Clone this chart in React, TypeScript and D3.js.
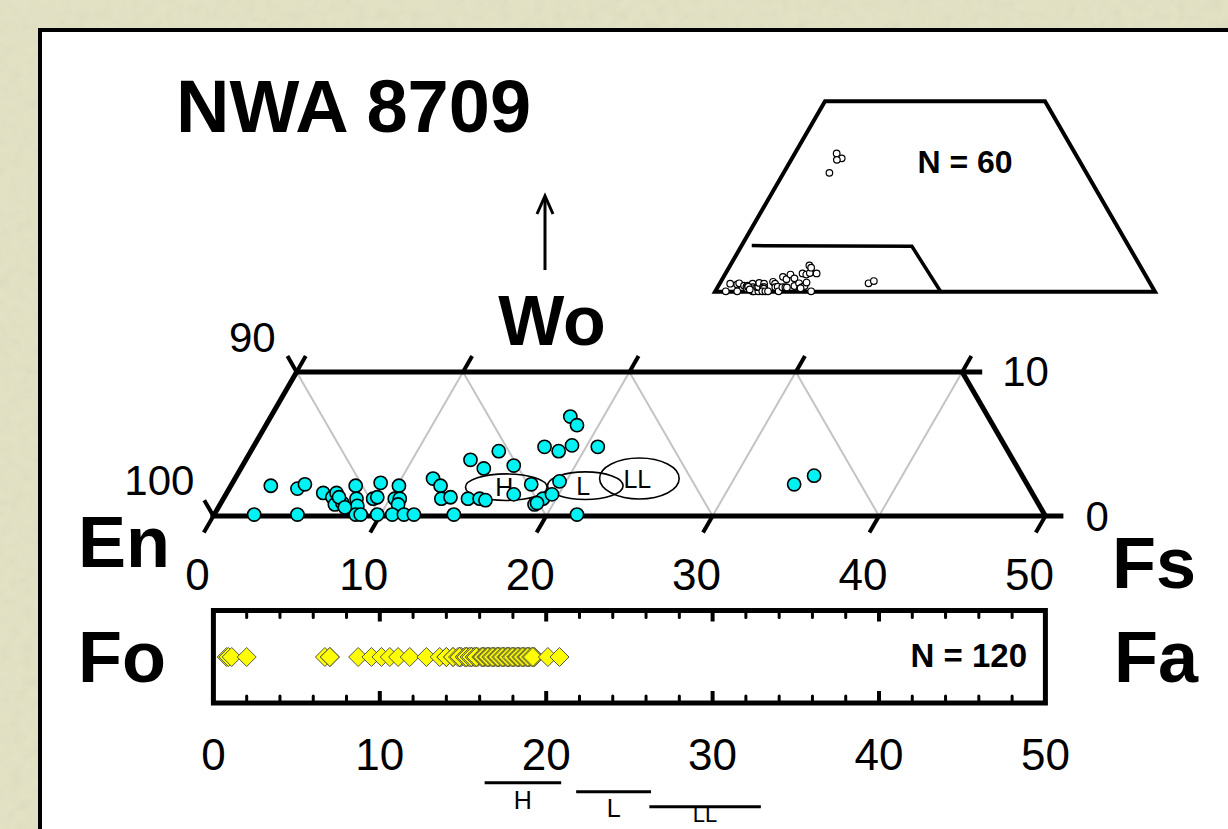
import React from "react";
import * as d3 from "d3";

const W = 1228;
const H = 829;
const FONT = "'Liberation Sans', Arial, Helvetica, sans-serif";

// Low-Ca pyroxene analyses, mol% Fs and Wo
const pyxFs = [
  2.4, 2.4, 5.0, 4.1, 4.4, 5.8, 6.5, 6.6, 6.9, 7.3,
  7.5, 8.0, 8.3, 8.5, 8.8, 9.8, 9.0, 9.2, 8.9, 10.1,
  10.3, 10.6, 10.7, 10.7, 11.4, 12.0, 11.9, 12.6, 13.1, 13.6,
  14.4, 13.5, 14.6, 14.9, 16.3, 14.7, 15.4, 15.8, 17.3, 18.0,
  18.9, 19.2, 19.6, 19.6, 17.5, 18.5, 19.1, 18.0, 18.7, 20.7,
  21.8, 33.8, 34.7, 19.0, 6.9, 7.6,
];
const pyxWo = [
  2.1, 0.1, 0.1, 1.9, 2.2, 1.6, 1.3, 1.6, 0.8, 0.9,
  2.1, 1.2, 0.7, 0.1, 0.1, 0.1, 1.2, 1.3, 2.3, 2.1,
  1.2, 1.2, 0.8, 0.1, 0.1, 0.1, 2.6, 2.1, 1.2, 1.3,
  0.1, 3.9, 3.3, 4.5, 3.5, 1.2, 1.2, 1.1, 1.5, 2.2,
  0.8, 1.2, 1.5, 2.4, 4.8, 4.5, 4.9, 6.9, 6.3, 4.8,
  0.1, 2.2, 2.8, 0.9, 1.3, 0.6,
];

// High-Ca pyroxene analyses (only inside the full quadrilateral)
const cpxFs = [9.5, 11.3, 10.4, 10.4];
const cpxWo = [36.3, 35.0, 34.6, 31.2];

// Olivine analyses, mol% Fa
const olivineFa = [
  0.8, 0.9, 1.1, 2.0, 6.7, 7.0, 7.0, 8.7, 9.5, 10.1,
  10.6, 11.1, 11.8, 12.8, 13.6, 14.0, 14.0, 14.4, 14.4, 14.8,
  14.8, 14.8, 14.9, 14.8, 14.7, 14.8,
  15.2, 15.2, 15.3, 15.2, 15.1, 15.2, 15.2,
  15.5, 15.5, 15.6, 15.5, 15.4, 15.5,
  15.8, 15.8, 15.9, 15.8, 15.7, 15.8, 15.8,
  16.2, 16.2, 16.3, 16.2, 16.1, 16.2, 16.2,
  16.5, 16.5, 16.6, 16.5, 16.4, 16.5, 16.5,
  16.8, 16.8, 16.9, 16.8, 16.7, 16.8,
  17.1, 17.1, 17.2, 17.1, 17.0, 17.1, 17.1,
  17.4, 17.4, 17.5, 17.4, 17.3, 17.4,
  17.7, 17.7, 17.8, 17.7, 17.6, 17.7, 17.7,
  18.0, 18.0, 18.1, 18.0, 17.9, 18.0,
  18.3, 18.3, 18.4, 18.3, 18.2, 18.3, 18.3,
  18.6, 18.6, 18.7, 18.6, 18.5, 18.6,
  18.9, 18.9, 19.0, 18.9, 18.8, 18.9, 18.9,
  19.2, 19.2, 19.3, 19.2, 19.1, 19.2,
  20.1, 20.8,
];

// Ordinary chondrite groups
const groups = ["H", "L", "LL"];
const groupPyxFs = [16.6, 21.3, 24.3];
const groupPyxWo = [2.0, 2.1, 2.6];
const groupPyxFsRadius = [2.45, 2.27, 2.39];
const groupPyxWoRadius = [0.92, 0.96, 1.42];
const groupFaMin = [16.3, 21.8, 26.2];
const groupFaMax = [20.9, 26.3, 32.9];

// Pigeonite field boundary in the quadrilateral
const boundaryFs = [2.3, 38.8, 51.3];
const boundaryWo = [12.1, 11.9, 0];

const axisTicks = [0, 10, 20, 30, 40, 50];
const leftLabels = ["90", "100"];
const rightLabels = ["10", "0"];

export default function App() {
  // main En–Fs–Wo strip (Wo 0–10)
  const fsX = d3.scaleLinear().domain([0, 50]).range([213.4, 1045.4]);
  const woY = d3.scaleLinear().domain([0, 10]).range([516, 371.9]);
  const proj = (fs: number, wo: number): [number, number] => [fsX(fs + wo / 2), woY(wo)];
  const line = d3.line();

  // pyroxene quadrilateral (Wo 0–50)
  const qX = d3.scaleLinear().domain([0, 100]).range([715, 1155]);
  const qY = d3.scaleLinear().domain([0, 50]).range([291.7, 101.2]);
  const qProj = (fs: number, wo: number): [number, number] => [qX(fs + wo / 2), qY(wo)];

  // olivine strip
  const faX = d3.scaleLinear().domain([0, 50]).range([213.4, 1045.4]);
  const boxTop = 610.5;
  const boxBottom = 703;
  const diamondY = 657;
  const minorTicks = d3.range(2, 50, 2).filter((v) => v % 10 !== 0);
  const majorTicks = [10, 20, 30, 40];

  const enLines = [0, 10, 20, 30];
  const fsLines = [10, 20, 30, 40];

  const dia = 9.5;
  const diamondPath = `M0,${-dia}L${dia},0L0,${dia}L${-dia},0Z`;

  const pyx = pyxFs.map((f, i) => ({ fs: f, wo: pyxWo[i] }));
  const quadPts = pyx.concat(cpxFs.map((f, i) => ({ fs: f, wo: cpxWo[i] })));

  const topLeft = proj(0, 10);
  const botLeft = proj(0, 0);
  const topRight = proj(40, 10);
  const botRight = proj(50, 0);

  const rangeY = [782.7, 791.7, 806.7];
  const rangeLabelDy = [26, 25, 15];

  return (
    <svg
      width={W}
      height={H}
      viewBox={`0 0 ${W} ${H}`}
      style={{ position: "absolute", left: 0, top: 0, display: "block" }}
      fontFamily={FONT}
    >
      <defs>
        <filter id="grain" x="0" y="0" width="100%" height="100%">
          <feTurbulence type="fractalNoise" baseFrequency="0.09" numOctaves="3" seed="7" />
          <feColorMatrix type="saturate" values="0" />
        </filter>
      </defs>

      {/* page background */}
      <rect x={0} y={0} width={W} height={H} fill="#e4e2c4" />
      <rect x={0} y={0} width={W} height={H} filter="url(#grain)" opacity={0.1} />

      {/* white panel */}
      <rect x={40} y={30} width={W} height={H} fill="#ffffff" stroke="#000" strokeWidth={4} />

      {/* title */}
      <text x={176} y={132} fontSize={74} fontWeight="bold">NWA 8709</text>

      {/* pyroxene quadrilateral */}
      <g>
        <path
          d={line([qProj(0, 0), qProj(100, 0), qProj(50, 50), qProj(0, 50)])! + "Z"}
          fill="none"
          stroke="#000"
          strokeWidth={4}
          strokeLinejoin="miter"
        />
        <path
          d={line(boundaryFs.map((f, i) => qProj(f, boundaryWo[i])))!}
          fill="none"
          stroke="#000"
          strokeWidth={3.5}
        />
        {quadPts.map((p, i) => {
          const [x, y] = qProj(p.fs, p.wo);
          return <circle key={i} cx={x} cy={y} r={3.3} fill="#fff" stroke="#000" strokeWidth={1.2} />;
        })}
        <text x={965} y={173} fontSize={32} fontWeight="bold" textAnchor="middle">
          {`N = ${quadPts.length}`}
        </text>
      </g>

      {/* Wo arrow and label */}
      <line x1={545} y1={270} x2={545} y2={197} stroke="#000" strokeWidth={3} />
      <path d="M537,214L545,196L553,214" fill="none" stroke="#000" strokeWidth={3} />
      <text x={552} y={345} fontSize={70} fontWeight="bold" textAnchor="middle">Wo</text>

      {/* grid */}
      {enLines.map((k) => (
        <path key={"en" + k} d={line([proj(k, 10), proj(k + 10, 0)])!} stroke="#c4c4c4" strokeWidth={2} fill="none" />
      ))}
      {fsLines.map((k) => (
        <path key={"fs" + k} d={line([proj(k, 0), proj(k, 10)])!} stroke="#c4c4c4" strokeWidth={2} fill="none" />
      ))}

      {/* strip frame */}
      <g stroke="#000" strokeWidth={5} fill="none" strokeLinecap="butt">
        <path d={line([[botLeft[0] - 3, botLeft[1]], [botRight[0] + 18, botRight[1]]])!} />
        <path d={line([topLeft, [topRight[0] + 20, topRight[1]]])!} />
        <path d={line([botLeft, topLeft])!} />
        <path d={line([topRight, botRight])!} />
      </g>
      <g stroke="#000" strokeWidth={4} fill="none">
        {axisTicks.map((k) => (
          <path key={"bt" + k} d={line([proj(k, 0), proj(k, -1.15)])!} />
        ))}
        {axisTicks.slice(0, 5).map((k) => (
          <path key={"tt" + k} d={line([proj(k, 10), proj(k, 11.1)])!} />
        ))}
        <path d={line([proj(0, 10), proj(-1.1, 11.1)])!} />
        <path d={line([proj(0, 0), proj(-1.1, 1.1)])!} />
      </g>

      {/* strip axis labels */}
      <g fontSize={42}>
        <text x={topLeft[0] - 21} y={topLeft[1] - 20} textAnchor="end">{leftLabels[0]}</text>
        <text x={botLeft[0] - 19} y={botLeft[1] - 21} textAnchor="end">{leftLabels[1]}</text>
        <text x={topRight[0] + 40} y={topRight[1] + 14}>{rightLabels[0]}</text>
        <text x={botRight[0] + 40} y={botRight[1] + 15}>{rightLabels[1]}</text>
      </g>
      <g fontSize={44} textAnchor="middle">
        {axisTicks.map((k) => (
          <text key={"tl" + k} x={fsX(k) - 16} y={590}>{k}</text>
        ))}
      </g>
      <g fontSize={72} fontWeight="bold">
        <text x={78} y={567}>En</text>
        <text x={1112} y={588}>Fs</text>
        <text x={78} y={682}>Fo</text>
        <text x={1114} y={682}>Fa</text>
      </g>

      {/* chondrite pyroxene fields */}
      {groups.map((g, i) => {
        const [cx, cy] = proj(groupPyxFs[i], groupPyxWo[i]);
        const rx = fsX(groupPyxFsRadius[i]) - fsX(0);
        const ry = woY(0) - woY(groupPyxWoRadius[i]);
        return (
          <g key={g}>
            <ellipse cx={cx} cy={cy} rx={rx} ry={ry} fill="none" stroke="#000" strokeWidth={1.6} />
            <text x={cx - 2} y={cy + 9} fontSize={25} textAnchor="middle">{g}</text>
          </g>
        );
      })}

      {/* pyroxene analyses */}
      {pyx.map((p, i) => {
        const [x, y] = proj(p.fs, p.wo);
        return <circle key={i} cx={x} cy={y} r={6.6} fill="#00f2f2" stroke="#000" strokeWidth={1.6} />;
      })}

      {/* olivine strip */}
      <rect
        x={faX(0)}
        y={boxTop}
        width={faX(50) - faX(0)}
        height={boxBottom - boxTop}
        fill="none"
        stroke="#000"
        strokeWidth={5}
      />
      <g stroke="#000" strokeLinecap="round">
        {minorTicks.map((v) => (
          <g key={"mt" + v}>
            <line x1={faX(v)} x2={faX(v)} y1={boxTop} y2={boxTop + 7} strokeWidth={3} />
            <line x1={faX(v)} x2={faX(v)} y1={boxBottom} y2={boxBottom - 7} strokeWidth={3} />
          </g>
        ))}
        {majorTicks.map((v) => (
          <g key={"Mt" + v}>
            <line x1={faX(v)} x2={faX(v)} y1={boxTop} y2={boxTop + 11} strokeWidth={4} strokeLinecap="butt" />
            <line x1={faX(v)} x2={faX(v)} y1={boxBottom} y2={boxBottom - 12} strokeWidth={4} strokeLinecap="butt" />
          </g>
        ))}
      </g>
      {olivineFa.map((fa, i) => (
        <path
          key={i}
          d={diamondPath}
          transform={`translate(${faX(fa)},${diamondY})`}
          fill="#ffff00"
          stroke="#444"
          strokeWidth={0.9}
        />
      ))}
      <text x={1027} y={667} fontSize={33} fontWeight="bold" textAnchor="end">
        {`N = ${olivineFa.length}`}
      </text>
      <g fontSize={44} textAnchor="middle">
        {axisTicks.map((k) => (
          <text key={"bl" + k} x={faX(k)} y={770}>{k}</text>
        ))}
      </g>

      {/* chondrite olivine ranges */}
      {groups.map((g, i) => {
        const y = rangeY[i];
        return (
          <g key={"r" + g}>
            <line x1={faX(groupFaMin[i])} x2={faX(groupFaMax[i])} y1={y} y2={y} stroke="#000" strokeWidth={3} />
            <text x={faX((groupFaMin[i] + groupFaMax[i]) / 2)} y={y + rangeLabelDy[i]} fontSize={i === 2 ? 22 : 25} textAnchor="middle">{g}</text>
          </g>
        );
      })}
    </svg>
  );
}
